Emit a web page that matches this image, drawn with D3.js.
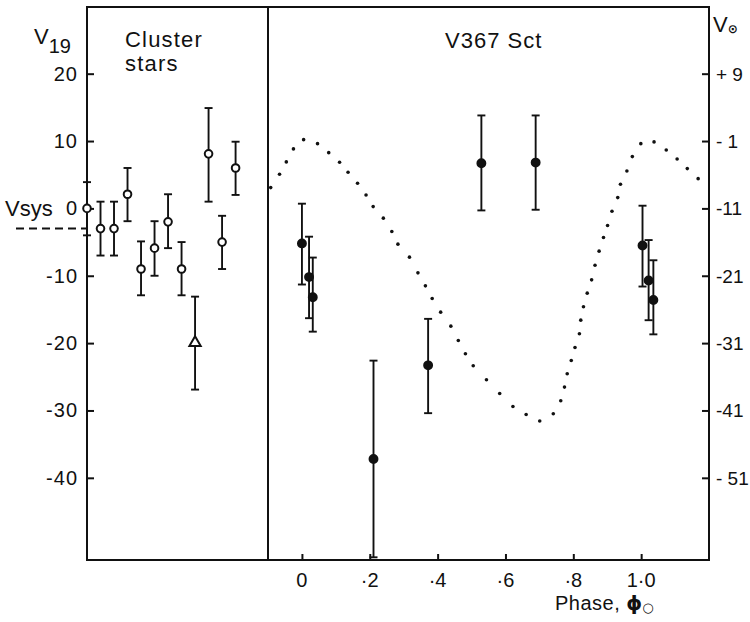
<!DOCTYPE html>
<html>
<head>
<meta charset="utf-8">
<script src="https://cdn.jsdelivr.net/npm/d3@7"></script>
<style>
  body { margin: 0; background: #fff; }
  text { font-family: "Liberation Sans", Arial, sans-serif; fill: #111; }
</style>
</head>
<body>
<div id="chart"></div>
<script>
// Cluster stars (left panel), velocities on the V19 scale
const clusterPos = [0, 1, 2, 3, 4, 5, 6, 7, 8, 9, 10, 11];
const clusterV = [0, -3, -3, 2.1, -9, -5.9, -2, -9, -20.1, 8.1, -5, 6];
const clusterHi = [3.9, 1, 1, 6, -4.9, -1.9, 2.1, -5, -13.1, 14.9, -1.1, 9.9];
const clusterLo = [-4, -7, -7, -1.9, -12.9, -10, -5.9, -12.9, -26.9, 1, -9, 2];
const clusterSym = ["o", "o", "o", "o", "o", "o", "o", "o", "tri", "o", "o", "o"];

// V367 Sct measurements against phase
const sctPhase = [0.0, 0.021, 0.032, 0.211, 0.372, 0.529, 0.689, 1.004, 1.022, 1.036];
const sctV = [-5.2, -10.2, -13.2, -37.2, -23.3, 6.7, 6.8, -5.5, -10.7, -13.6];
const sctHi = [0.7, -4.2, -7.3, -22.6, -16.4, 13.8, 13.8, 0.4, -4.7, -7.7];
const sctLo = [-11.3, -16.3, -18.3, -51.8, -30.4, -0.3, -0.2, -11.6, -16.6, -18.7];

// dotted orbit curve
const curvePhase = [-0.092, -0.066, -0.046, -0.025, 0.005, 0.046, 0.079, 0.111, 0.136, 0.164,
  0.189, 0.210, 0.240, 0.265, 0.283, 0.317, 0.342, 0.364, 0.384, 0.409,
  0.439, 0.461, 0.482, 0.505, 0.544, 0.583, 0.622, 0.661, 0.701, 0.741,
  0.763, 0.774, 0.782, 0.794, 0.805, 0.818, 0.822, 0.830, 0.841, 0.854,
  0.864, 0.876, 0.889, 0.901, 0.914, 0.931, 0.939, 0.958, 0.974, 0.999,
  1.038, 1.074, 1.106, 1.136, 1.168];
const curveV = [3.09, 5.07, 6.90, 8.83, 10.21, 9.61, 8.28, 6.85, 5.37, 3.74,
  2.00, 0.27, -1.45, -3.44, -5.31, -7.24, -9.57, -11.50, -13.37, -15.40,
  -17.48, -19.61, -21.59, -23.37, -25.45, -27.48, -29.41, -30.59, -31.57, -30.49,
  -28.56, -26.53, -24.55, -22.58, -20.65, -18.62, -16.59, -14.61, -12.58, -10.61,
  -8.43, -6.35, -4.33, -2.55, -0.42, 1.60, 3.59, 5.56, 7.69, 9.61,
  9.87, 8.68, 7.34, 5.91, 4.42];

// axis ticks
const leftTicks = [20, 10, 0, -10, -20, -30, -40];
const rightTicks = [9, -1, -11, -21, -31, -41, -51];
const rightTickLabels = ["+ 9", "- 1", "-11", "-21", "-31", "-41", "- 51"];
const phaseTicks = [0, 0.2, 0.4, 0.6, 0.8, 1.0];
const phaseTickLabels = ["0", "·2", "·4", "·6", "·8", "1·0"];
const vsysLevel = -3;

function drawChart() {
  const W = 750, H = 622;
  const left = 87, right = 709, top = 7, bottom = 560, divider = 268;
  const tickFont = "20px";
  const labelFont = "22px";

  const svg = d3.select("#chart").append("svg")
    .attr("width", W).attr("height", H);

  const y = d3.scaleLinear().domain([-52.2, 29.9]).range([bottom, top]);
  const ySun = d3.scaleLinear().domain([-63.2, 18.9]).range([bottom, top]);
  const xStar = d3.scaleLinear().domain([0, 13.4]).range([left, divider]);
  const xPhase = d3.scaleLinear().domain([-0.1, 1.2]).range([divider, right]);

  // Frame and panel divider
  svg.append("rect")
    .attr("x", left).attr("y", top)
    .attr("width", right - left).attr("height", bottom - top)
    .attr("fill", "none").attr("stroke", "#111").attr("stroke-width", 2);
  svg.append("line")
    .attr("x1", divider).attr("x2", divider)
    .attr("y1", top).attr("y2", bottom)
    .attr("stroke", "#111").attr("stroke-width", 2);

  // Left axis (ticks inward)
  const yAxis = svg.append("g")
    .attr("transform", `translate(${left},0)`)
    .call(d3.axisRight(y).tickValues(leftTicks).tickSize(7).tickFormat(""));
  yAxis.select(".domain").remove();
  yAxis.selectAll("line").attr("stroke", "#111").attr("stroke-width", 2);
  svg.selectAll(".ylab")
    .data(leftTicks)
    .enter().append("text")
    .attr("x", 78).attr("y", (d) => y(d) + 7)
    .attr("text-anchor", "end")
    .style("font-size", tickFont)
    .style("letter-spacing", "1px")
    .text((d) => d);

  // Right axis V(sun)
  const ySunAxis = svg.append("g")
    .attr("transform", `translate(${right},0)`)
    .call(d3.axisLeft(ySun).tickValues(rightTicks).tickSize(7).tickFormat(""));
  ySunAxis.select(".domain").remove();
  ySunAxis.selectAll("line").attr("stroke", "#111").attr("stroke-width", 2);
  svg.selectAll(".rlab")
    .data(rightTicks)
    .enter().append("text")
    .attr("x", 716).attr("y", (d) => ySun(d) + 7)
    .style("font-size", "19px")
    .text((d, i) => rightTickLabels[i]);

  // Bottom phase axis
  const xAxis = svg.append("g")
    .attr("transform", `translate(0,${bottom})`)
    .call(d3.axisTop(xPhase).tickValues(phaseTicks).tickSize(6).tickFormat(""));
  xAxis.select(".domain").remove();
  xAxis.selectAll("line").attr("stroke", "#111").attr("stroke-width", 2);
  svg.selectAll(".xlab")
    .data(phaseTicks)
    .enter().append("text")
    .attr("x", (d) => xPhase(d))
    .attr("y", 587)
    .attr("text-anchor", "middle")
    .style("font-size", tickFont)
    .text((d, i) => phaseTickLabels[i]);

  // Vsys dashed marker
  svg.append("line")
    .attr("x1", 16).attr("x2", left)
    .attr("y1", y(vsysLevel)).attr("y2", y(vsysLevel))
    .attr("stroke", "#111").attr("stroke-width", 2)
    .attr("stroke-dasharray", "8,5");
  svg.append("text").attr("x", 5).attr("y", 216)
    .style("font-size", labelFont).text("Vsys");

  // Labels
  const v19 = svg.append("text").attr("x", 34).attr("y", 44).style("font-size", labelFont);
  v19.append("tspan").text("V");
  v19.append("tspan").attr("dy", 9).style("font-size", "20px").text("19");

  svg.append("text").attr("x", 125).attr("y", 47).style("font-size", labelFont)
    .style("letter-spacing", "1.2px").text("Cluster");
  svg.append("text").attr("x", 125).attr("y", 71).style("font-size", labelFont)
    .style("letter-spacing", "1.2px").text("stars");
  svg.append("text").attr("x", 445).attr("y", 48).style("font-size", labelFont)
    .style("letter-spacing", "1px").text("V367 Sct");

  const vs = svg.append("text").attr("x", 713).attr("y", 32).style("font-size", labelFont);
  vs.append("tspan").text("V");
  vs.append("tspan").attr("dy", 1).style("font-size", "12px")
    .style("font-family", "DejaVu Sans").style("font-weight", "bold").text("⊙");

  const ph = svg.append("text").attr("x", 555).attr("y", 610).style("font-size", tickFont);
  ph.append("tspan").style("letter-spacing", "0.5px").text("Phase, ");
  ph.append("tspan").style("font-family", "DejaVu Sans").style("font-weight", "bold")
    .style("font-size", "20px").text("ϕ");
  ph.append("tspan").attr("dy", 2).style("font-size", "13px")
    .style("font-family", "DejaVu Sans").text("○");

  // Error bars helper
  function errorBars(g, xs, his, los) {
    const cap = 4;
    xs.forEach((x, i) => {
      const y1 = y(his[i]), y2 = y(los[i]);
      g.append("line").attr("x1", x).attr("x2", x).attr("y1", y1).attr("y2", y2);
      g.append("line").attr("x1", x - cap).attr("x2", x + cap).attr("y1", y1).attr("y2", y1);
      g.append("line").attr("x1", x - cap).attr("x2", x + cap).attr("y1", y2).attr("y2", y2);
    });
  }

  // Cluster stars
  const gC = svg.append("g").attr("stroke", "#111").attr("stroke-width", 1.9);
  errorBars(gC, clusterPos.map((p) => xStar(p)), clusterHi, clusterLo);
  clusterPos.forEach((p, i) => {
    if (clusterSym[i] === "tri") {
      gC.append("path")
        .attr("d", d3.symbol(d3.symbolTriangle, 55)())
        .attr("transform", `translate(${xStar(p)},${y(clusterV[i]) - 1})`)
        .attr("fill", "#fff").attr("stroke-width", 2);
    } else {
      gC.append("circle")
        .attr("cx", xStar(p)).attr("cy", y(clusterV[i]))
        .attr("r", 3.8).attr("fill", "#fff").attr("stroke-width", 2);
    }
  });

  // Model curve (dotted)
  svg.append("g").selectAll("circle")
    .data(curvePhase)
    .enter().append("circle")
    .attr("cx", (d) => xPhase(d))
    .attr("cy", (d, i) => y(curveV[i]))
    .attr("r", 1.8)
    .attr("fill", "#111");

  // V367 Sct points
  const gS = svg.append("g").attr("stroke", "#111").attr("stroke-width", 1.9);
  errorBars(gS, sctPhase.map((p) => xPhase(p)), sctHi, sctLo);
  gS.selectAll("circle")
    .data(sctPhase)
    .enter().append("circle")
    .attr("cx", (d) => xPhase(d))
    .attr("cy", (d, i) => y(sctV[i]))
    .attr("r", 4)
    .attr("fill", "#111");
}

drawChart();
</script>
</body>
</html>
